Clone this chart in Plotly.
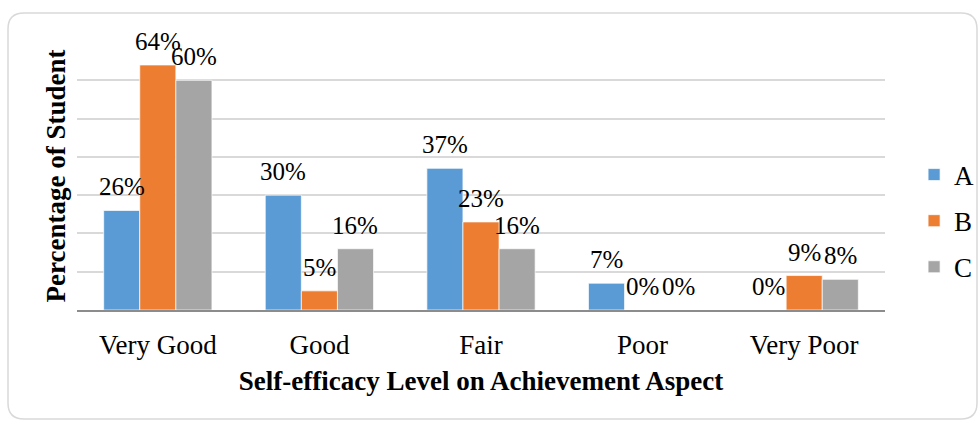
import plotly.graph_objects as go

categories = ["Very Good", "Good", "Fair", "Poor", "Very Poor"]
series_names = ["A", "B", "C"]
values_a = [0.26, 0.30, 0.37, 0.07, 0.00]
values_b = [0.64, 0.05, 0.23, 0.00, 0.09]
values_c = [0.60, 0.16, 0.16, 0.00, 0.08]
colors = ["#5B9BD5", "#ED7D31", "#A5A5A5"]

W, H = 979, 421
ML, MR, MT, MB = 77, 94, 42, 111
PW, PH = W - ML - MR, H - MT - MB
BARGAP = 0.33
FONT = "Liberation Serif, Times New Roman, serif"

fig = go.Figure()
all_vals = [values_a, values_b, values_c]
for i, (name, vals) in enumerate(zip(series_names, all_vals)):
    fig.add_trace(go.Bar(
        x=categories, y=vals, name=name,
        marker=dict(color=colors[i], line=dict(color="white", width=0.7)),
        legendgroup=name,
    ))

bar_px = PW / len(categories) * (1 - BARGAP) / 3
annotations = []
for i, vals in enumerate(all_vals):
    for c, v in zip(categories, vals):
        annotations.append(dict(
            x=c, y=v, xref="x", yref="y", text=f"{round(v*100)}%",
            showarrow=False, xanchor="center", yanchor="bottom",
            xshift=(i - 1) * bar_px, yshift=8,
            font=dict(family=FONT, size=25, color="#000000"),
        ))

def px2paper(px, py):
    return (px - ML) / PW, (H - MB - py) / PH

x0, y0, x1, y1, r = 8, 13, 977, 419, 16
def P(px, py):
    a, b = px2paper(px, py)
    return f"{a:.5f},{b:.5f}"
path = (f"M{P(x0 + r, y0)} L{P(x1 - r, y0)} Q{P(x1, y0)} {P(x1, y0 + r)} "
        f"L{P(x1, y1 - r)} Q{P(x1, y1)} {P(x1 - r, y1)} "
        f"L{P(x0 + r, y1)} Q{P(x0, y1)} {P(x0, y1 - r)} "
        f"L{P(x0, y0 + r)} Q{P(x0, y0)} {P(x0 + r, y0)} Z")

fig.update_layout(
    width=W, height=H,
    margin=dict(l=ML, r=MR, t=MT, b=MB, autoexpand=False),
    paper_bgcolor="white", plot_bgcolor="white",
    barmode="group", bargap=BARGAP, bargroupgap=0,
    font=dict(family=FONT, size=25, color="#000000"),
    annotations=annotations,
    shapes=[dict(type="path", xref="paper", yref="paper", path=path,
                 line=dict(color="#D9D9D9", width=1.5), layer="below")],
    legend=dict(x=1.036, y=0.332, xanchor="left", yanchor="middle",
                font=dict(family=FONT, size=27), tracegroupgap=8,
                bgcolor="rgba(0,0,0,0)"),
    xaxis=dict(
        showgrid=False, showline=True, linecolor="#8C8C8C", linewidth=1.5,
        ticks="", ticklabelstandoff=10,
        tickfont=dict(family=FONT, size=27),
        title=dict(text="<b>Self-efficacy Level on Achievement Aspect</b>",
                   font=dict(family=FONT, size=27), standoff=12),
    ),
    yaxis=dict(
        range=[0, 0.7], dtick=0.1, showgrid=True, gridcolor="#D9D9D9",
        gridwidth=1.5, showticklabels=False, zeroline=False, ticks="",
        title=dict(text="<b>Percentage of Student</b>",
                   font=dict(family=FONT, size=27), standoff=2),
    ),
)

fig.write_html("out.html", config={"displayModeBar": False},
               post_script="document.body.style.margin='0';document.body.style.overflow='hidden';")
